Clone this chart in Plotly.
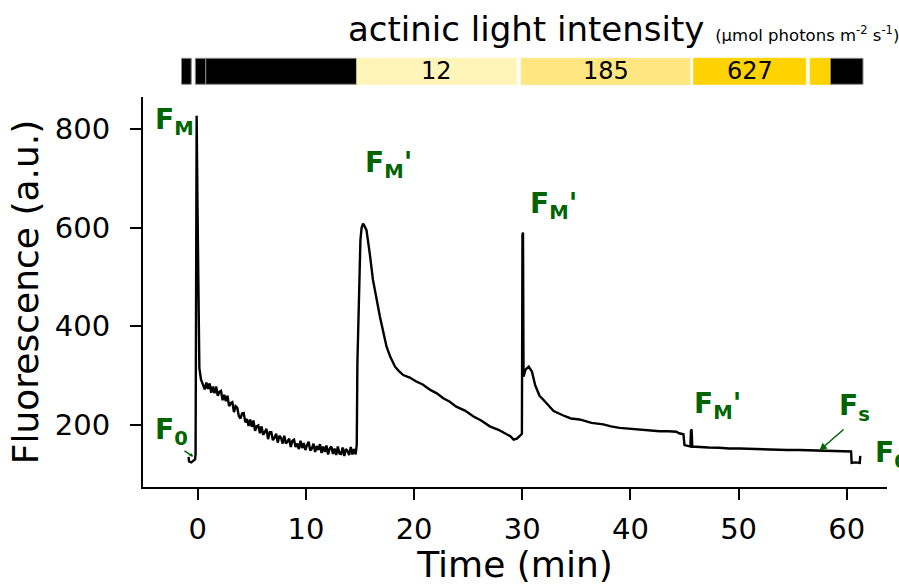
import plotly.graph_objects as go

# ---------------- data ----------------
t_pre = [-0.85, -0.80, -0.60, -0.40, -0.25, -0.20, -0.15, -0.10, -0.02, 0.08, 0.15, 0.30]
f_pre = [135, 126, 124, 127, 130, 140, 500, 827, 640, 380, 315, 292]

t_dark = [0.50, 0.65, 0.80, 0.95, 1.10, 1.25, 1.40, 1.55, 1.70, 1.85, 2.00, 2.15, 2.30, 2.45,
          2.60, 2.75, 2.90, 3.05, 3.20, 3.35, 3.50, 3.65, 3.80, 3.95, 4.10, 4.25, 4.40, 4.55,
          4.70, 4.85, 5.00, 5.15, 5.30, 5.45, 5.60, 5.75, 5.90, 6.05, 6.20, 6.35, 6.50, 6.65,
          6.80, 6.95, 7.10, 7.25, 7.40, 7.55, 7.70, 7.85, 8.00, 8.15, 8.30, 8.45, 8.60, 8.75,
          8.90, 9.05, 9.20, 9.35, 9.50, 9.65, 9.80, 9.95, 10.10, 10.25, 10.40, 10.55, 10.70,
          10.85, 11.00, 11.15, 11.30, 11.45, 11.60, 11.75, 11.90, 12.05, 12.20, 12.35, 12.50,
          12.65, 12.80, 12.95, 13.10, 13.25, 13.40, 13.55, 13.70, 13.85, 14.00, 14.15, 14.30,
          14.45, 14.60]
f_dark = [282, 272, 286, 273, 284, 265, 278, 264, 278, 259, 267, 269, 250, 261,
          248, 259, 238, 244, 246, 226, 238, 235, 218, 213, 223, 224, 205, 212,
          198, 211, 196, 209, 188, 197, 199, 183, 197, 180, 185, 192, 171, 185,
          185, 169, 174, 182, 164, 178, 174, 162, 178, 162, 166, 172, 155, 168,
          170, 155, 162, 151, 168, 153, 163, 149, 159, 166, 148, 152, 162,
          145, 157, 149, 161, 143, 156, 145, 158, 140, 152, 156, 141,
          152, 139, 156, 142, 141, 154, 137, 151, 147, 139, 155, 140,
          151, 140]

t_light = [14.65, 14.70, 14.76, 14.90, 15.04, 15.15, 15.28, 15.40, 15.60, 15.90, 16.20,
           16.85, 17.45, 17.80, 18.24, 18.60, 19.00, 19.60, 20.20, 20.80, 21.50, 22.10,
           22.70, 23.30, 23.90, 24.70, 25.50, 26.20, 27.00, 27.80, 28.55, 28.90, 29.20,
           29.50, 29.80, 29.97]
f_light = [150, 160, 325, 474, 575, 600, 608, 604, 595, 548, 494,
           419, 359, 338, 318, 309, 301, 296, 288, 282, 271, 264,
           254, 247, 237, 229, 217, 209, 197, 190, 180, 177, 170,
           172, 178, 182]

t_mid = [30.02, 30.07, 30.12, 30.30, 30.60, 30.90, 31.20, 31.60, 31.95, 32.40, 32.90, 33.80,
         34.50, 35.30, 36.40, 37.50, 38.20, 39.00, 39.90, 40.90, 41.80, 42.70, 43.50,
         44.25, 44.50, 44.90, 45.00, 45.30, 45.55, 45.60, 45.66, 45.72]
f_mid = [585, 590, 298, 312, 318, 308, 280, 259, 251, 239, 228, 219,
         213, 211, 204, 201, 197, 194, 192, 191, 188, 187, 187,
         186, 183, 181, 159, 157, 156, 190, 189, 156]

t_high = [46.30, 47.20, 48.20, 49.10, 50.10, 51.20, 52.30, 53.40, 54.50, 55.60, 56.40,
          57.20, 58.20, 59.30, 60.40, 60.45, 60.80, 61.20, 61.25]
f_high = [155, 154, 153.5, 152, 152, 151, 150.5, 150, 149, 149, 148.5,
          148, 147.5, 147, 146, 123, 124, 123, 137]

time = t_pre + t_dark + t_light + t_mid + t_high
fluor = f_pre + f_dark + f_light + f_mid + f_high

# actinic light protocol bar
bar_start = [-1.50, -0.22, 0.74, 14.72, 29.90, 45.85, 56.62, 58.50]
bar_end = [-0.60, 0.74, 14.70, 29.45, 45.50, 56.20, 58.50, 61.50]
bar_color = ["#000000", "#000000", "#000000", "#FFF5B8", "#FFE680", "#FFD200", "#FFD200", "#000000"]
bar_label = ["", "", "", "12", "185", "627", "", ""]

GREEN = "#006400"
FONT = "DejaVu Sans"

fig = go.Figure()
fig.add_trace(go.Scatter(x=time, y=fluor, mode="lines",
                         line=dict(color="black", width=2.4), showlegend=False,
                         hoverinfo="skip"))

shapes = []
annots = []
for s, e, c, lab in zip(bar_start, bar_end, bar_color, bar_label):
    shapes.append(dict(type="rect", xref="x", yref="paper", x0=s, x1=e,
                       y0=1.0326, y1=1.0992, fillcolor=c,
                       line=dict(color="#888888" if c == "#000000" else c, width=1)))
    if lab:
        annots.append(dict(x=(s + e) / 2, y=1.066, xref="x", yref="paper", text=lab,
                           showarrow=False, font=dict(family=FONT, size=24, color="black"),
                           xanchor="center", yanchor="middle"))

annots.append(dict(x=0.2726, y=1.118, xref="paper", yref="paper", xanchor="left", yanchor="bottom",
                   showarrow=False,
                   text="actinic light intensity <span style='font-size:16.5px'>(µmol photons m<sup>-2</sup> s<sup>-1</sup>)</span>",
                   font=dict(family=FONT, size=34, color="black")))

lab_font = dict(family=FONT, size=28, color=GREEN)
labels = [
    (-4.13, 816, "<b>F<sub>M</sub></b>"),
    (-4.13, 186, "<b>F<sub>0</sub></b>"),
    (15.25, 729, "<b>F<sub>M</sub>'</b>"),
    (30.56, 644, "<b>F<sub>M</sub>'</b>"),
    (45.67, 240, "<b>F<sub>M</sub>'</b>"),
    (59.07, 236, "<b>F<sub>s</sub></b>"),
    (62.43, 139, "<b>F<sub>0</sub></b>"),
]
for x, y, txt in labels:
    annots.append(dict(x=x, y=y, xref="x", yref="y", text=txt, showarrow=False,
                       xanchor="left", yanchor="middle", font=lab_font))

# arrows
annots.append(dict(x=57.47, y=147.9, ax=59.84, ay=193.3, xref="x", yref="y", axref="x", ayref="y",
                   text="", showarrow=True, arrowhead=2, arrowsize=1, arrowwidth=1.5, arrowcolor=GREEN))
annots.append(dict(x=-0.41, y=135.7, ax=-1.36, ay=149.3, xref="x", yref="y", axref="x", ayref="y",
                   text="", showarrow=True, arrowhead=2, arrowsize=0.5, arrowwidth=1.5, arrowcolor=GREEN))

fig.update_layout(
    width=899, height=585,
    margin=dict(l=143, r=12, t=97, b=98),
    paper_bgcolor="white", plot_bgcolor="white",
    shapes=shapes, annotations=annots,
    font=dict(family=FONT, color="black"),
)
fig.update_xaxes(range=[-5.06, 63.72], tickvals=[0, 10, 20, 30, 40, 50, 60],
                 showline=True, linewidth=2, linecolor="black", ticks="outside",
                 ticklen=11, tickwidth=2, tickcolor="black", showgrid=False, zeroline=False,
                 tickfont=dict(family=FONT, size=29), ticklabelstandoff=4, automargin=False,
                 title=dict(text="Time (min)", font=dict(family=FONT, size=36), standoff=6))
fig.update_yaxes(range=[74, 865], tickvals=[200, 400, 600, 800],
                 showline=True, linewidth=2, linecolor="black", ticks="outside",
                 ticklen=11, tickwidth=2, tickcolor="black", showgrid=False, zeroline=False,
                 tickfont=dict(family=FONT, size=29), ticklabelstandoff=14, automargin=False,
                 title=dict(text="Fluorescence (a.u.)", font=dict(family=FONT, size=36), standoff=5))

fig.write_html("out.html", config={"displayModeBar": False},
               post_script="document.body.style.margin='0';document.body.style.overflow='hidden';")
